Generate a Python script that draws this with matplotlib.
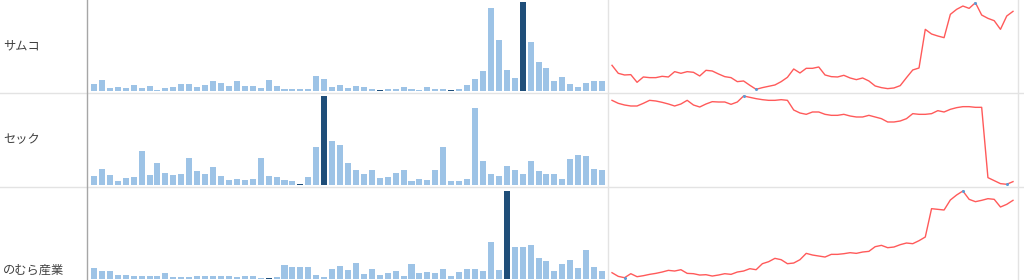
import numpy as np
import matplotlib
matplotlib.use("Agg")
import matplotlib.pyplot as plt
from matplotlib.lines import Line2D

plt.rcParams['font.family'] = ['Noto Sans CJK JP', 'DejaVu Sans']

# --- data ---
names = ["サムコ", "セック", "のむら産業"]

vol_samco = [20, 32, 9, 11, 9, 17, 10, 14, 4, 9, 12, 22, 20, 13, 17, 29, 23, 15, 29, 14,
             16, 10, 34, 15, 7, 5, 6, 7, 44, 37, 12, 17, 9, 15, 13, 5, 2, 7, 5, 13,
             5, 4, 12, 5, 7, 2, 7, 17, 35, 59, 247, 152, 62, 40, 265, 145, 85, 67, 30, 42,
             20, 13, 23, 30, 30]
vol_sec = [28, 48, 31, 13, 20, 23, 103, 30, 66, 36, 30, 33, 81, 41, 33, 54, 28, 16, 18, 16,
           18, 81, 26, 23, 16, 13, 3, 23, 115, 267, 131, 121, 66, 44, 33, 46, 21, 23, 36, 44,
           13, 18, 16, 44, 113, 13, 13, 18, 230, 73, 33, 26, 56, 46, 33, 72, 41, 33, 33, 18,
           78, 90, 86, 48, 46]
vol_nomura = [32, 25, 25, 13, 13, 10, 10, 8, 10, 18, 5, 5, 5, 8, 8, 8, 10, 8, 5, 8,
              8, 3, 2, 5, 41, 36, 36, 36, 13, 5, 30, 38, 27, 48, 15, 30, 13, 18, 23, 8,
              45, 18, 20, 18, 30, 10, 20, 30, 30, 25, 110, 27, 265, 95, 95, 102, 63, 55, 25, 45,
              57, 33, 87, 35, 23]

price_samco = [76, 52, 47, 48, 25, 41, 39, 39, 43, 41, 57, 52, 57, 55, 44, 61, 59, 50, 42, 39,
               27, 29, 16, 4, 9, 13, 17, 27, 40, 65, 53, 67, 67, 71, 47, 42, 41, 46, 38, 33,
               38, 29, 14, 9, 6, 8, 15, 39, 62, 68, 184, 170, 164, 159, 229, 244, 254, 247, 264, 227,
               217, 210, 184, 224, 238]
price_sec = [254, 245, 240, 237, 237, 245, 254, 252, 248, 243, 237, 243, 254, 240, 234, 243, 250, 249, 249, 242,
             249, 267, 263, 259, 256, 254, 254, 256, 254, 225, 216, 212, 219, 219, 212, 209, 209, 212, 207, 204,
             204, 209, 204, 199, 189, 189, 192, 199, 214, 212, 212, 214, 223, 219, 227, 232, 235, 235, 233, 233,
             22, 13, 4, 2, 10]
price_nomura = [17, 6, 2, 14, 5, 8, 12, 15, 19, 24, 22, 26, 15, 14, 10, 11, 7, 10, 14, 12,
                19, 22, 29, 26, 44, 50, 60, 56, 44, 46, 56, 75, 70, 67, 64, 72, 72, 74, 77, 75,
                79, 81, 95, 99, 92, 94, 101, 106, 104, 113, 124, 209, 207, 205, 235, 250, 262, 237, 230, 234,
                239, 237, 214, 222, 234]

volumes = [vol_samco, vol_sec, vol_nomura]
prices = [price_samco, price_sec, price_nomura]

# --- layout (pixel rows of the 1024x280 picture) ---
W, H = 1024, 280
rows = [(2, 91, 2.7, 89.3), (96, 185, 96, 184.3), (191, 279, 191, 277.7)]
label_y = [46, 140, 270]

light = '#9dc3e6'
dark = '#1f4e79'
red = '#ff5a5a'
dot = '#5b9bd5'

fig = plt.figure(figsize=(W / 100, H / 100), dpi=100)
fig.patch.set_facecolor('white')

def fx(px):
    return px / W

def fy(py):
    return 1 - py / H

for r in range(3):
    btop, bbot, ltop, lbot = rows[r]
    vol = np.array(volumes[r], dtype=float)
    price = np.array(prices[r], dtype=float)
    n = len(vol)

    # bars
    axb = fig.add_axes([fx(90), fy(bbot), fx(606) - fx(90), fy(btop) - fy(bbot)])
    x = np.arange(n)
    cols = [dark if (v == vol.max() or v == vol.min()) else light for v in vol]
    axb.bar(x, vol, width=0.76, color=cols, linewidth=0)
    axb.set_xlim(-0.5, n - 0.5)
    axb.set_ylim(0, vol.max())
    axb.axis('off')

    # line
    axl = fig.add_axes([fx(612), fy(lbot), fx(1013) - fx(612), fy(ltop) - fy(lbot)])
    axl.plot(x, price, color=red, lw=1.0, solid_joinstyle='round')
    for i in (price.argmin(), price.argmax()):
        axl.plot(x[i], price[i], 'o', color=dot, ms=2.2, mew=0)
    axl.set_xlim(0, n - 1)
    axl.set_ylim(price.min(), price.max())
    axl.axis('off')
    for a in (axb, axl):
        for c in a.get_children():
            c.set_clip_on(False)

    fig.text(fx(3), fy(label_y[r]), names[r], fontsize=8.8, color='#404040',
             ha='left', va='center')

# grid / separators
for py in (93.3, 186.8):
    fig.add_artist(Line2D([0, 1], [fy(py), fy(py)], color='#e3e3e3', lw=1))
for px, c in ((607.5, '#e3e3e3'), (1017.5, '#e3e3e3'), (87, '#a6a6a6')):
    fig.add_artist(Line2D([fx(px), fx(px)], [0, 1], color=c, lw=1))

fig.savefig('out.png', dpi=100, facecolor='white')
